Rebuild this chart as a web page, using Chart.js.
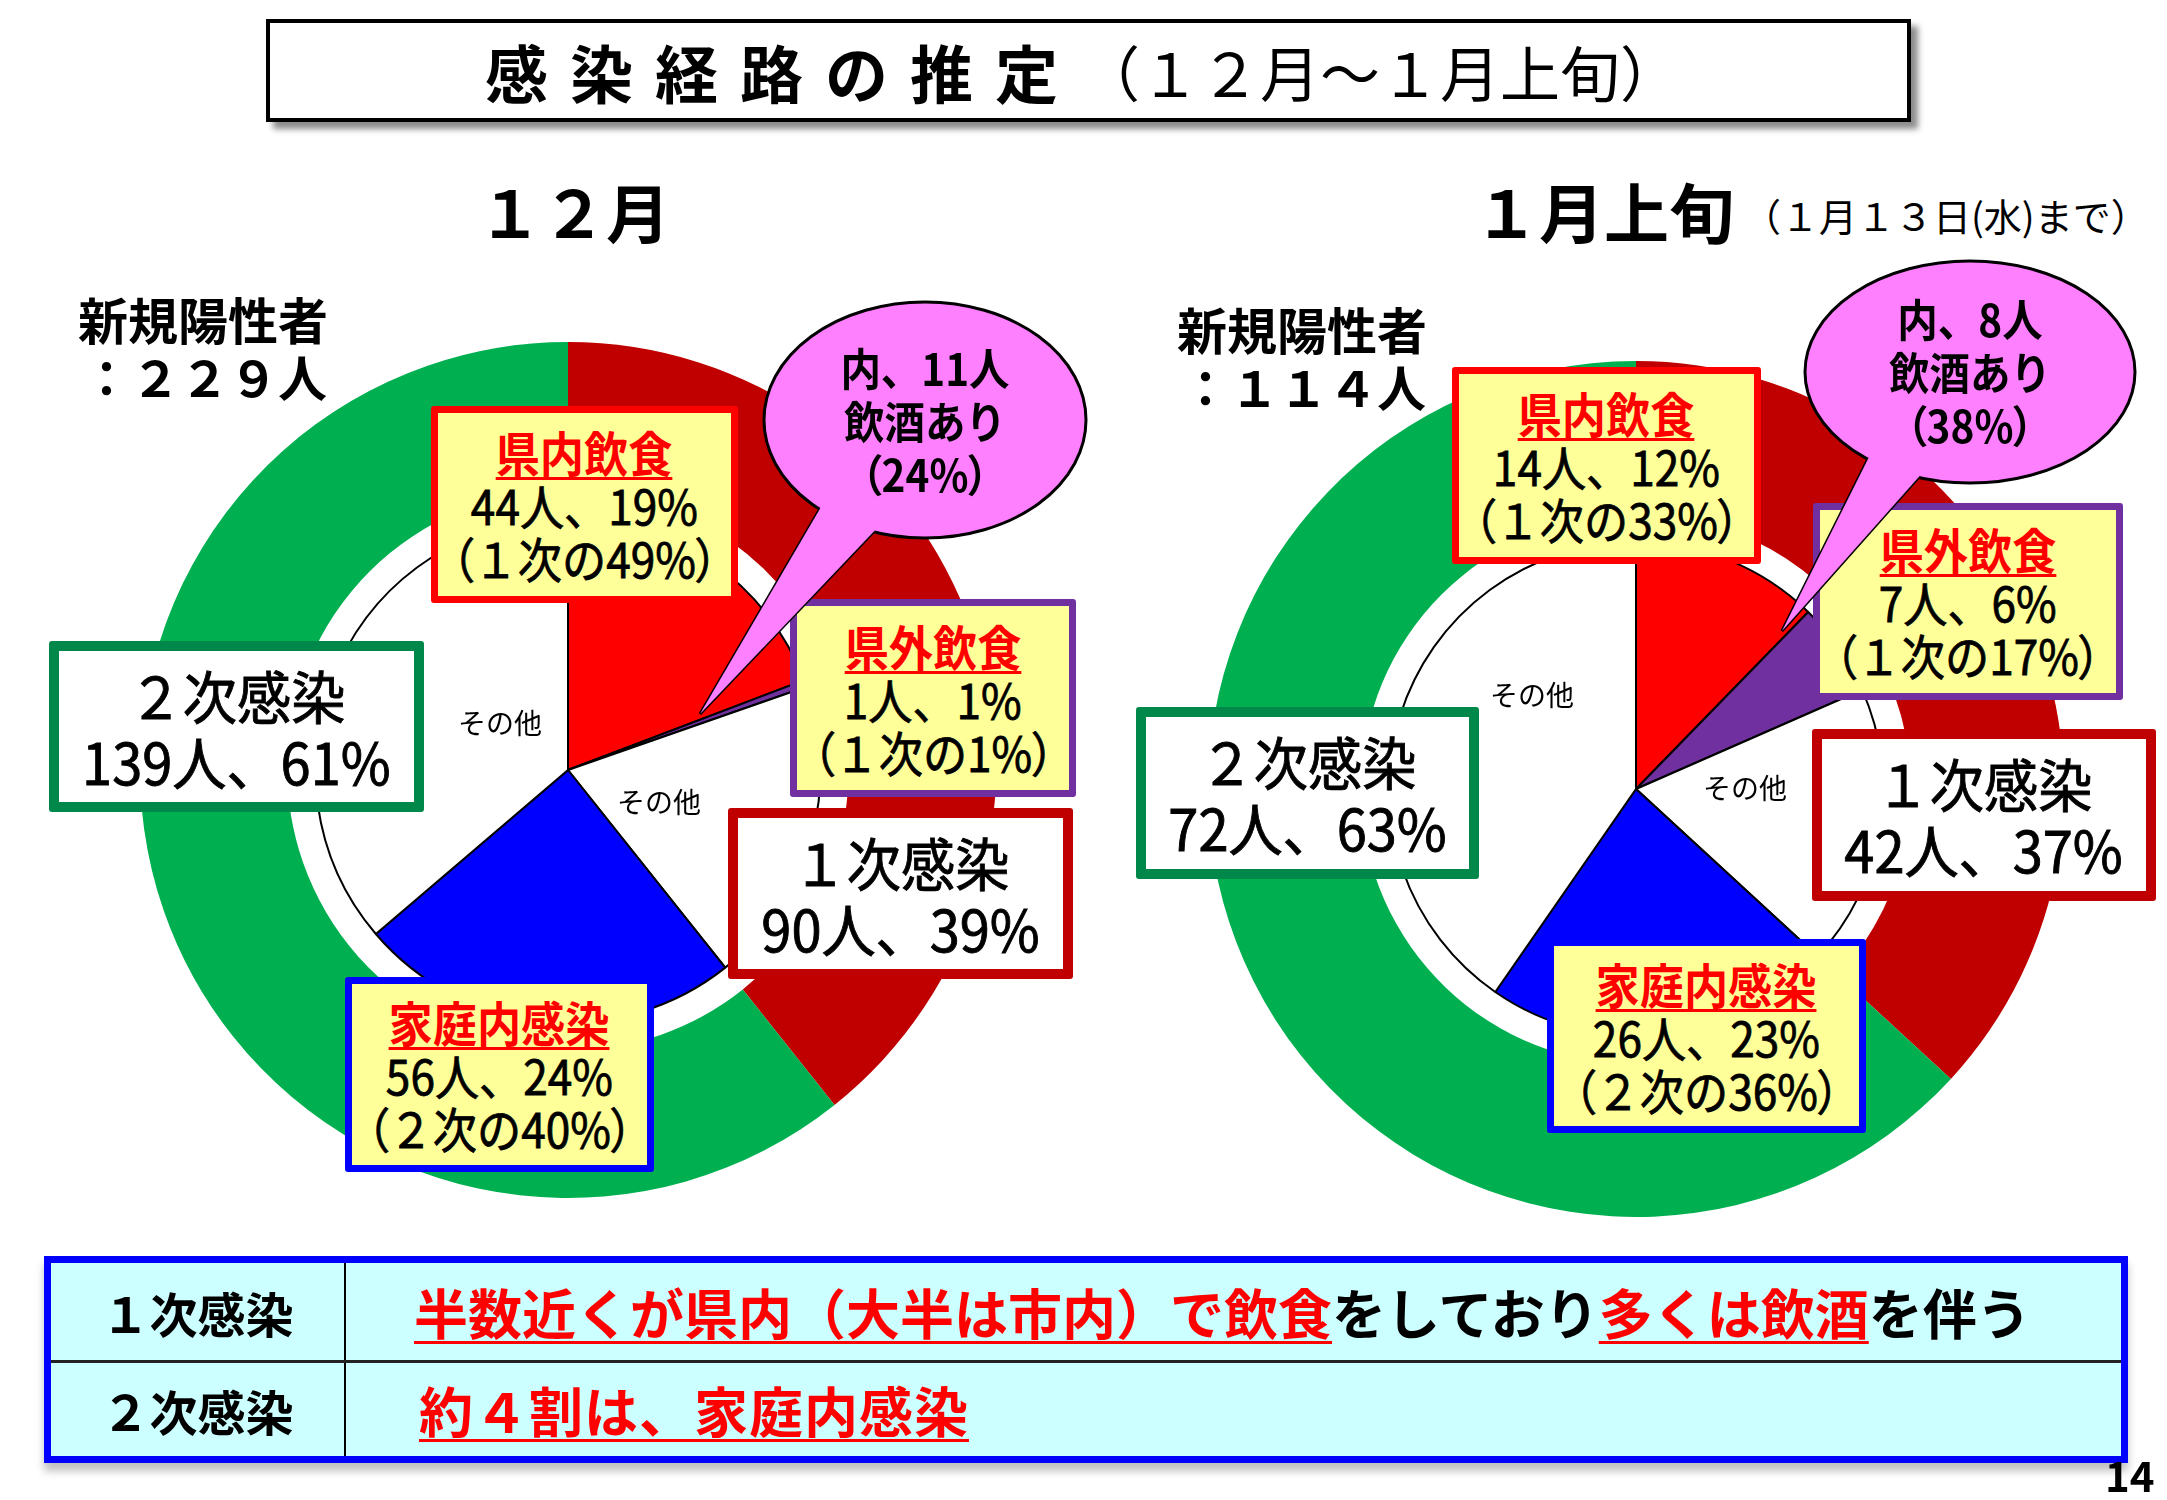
<!DOCTYPE html>
<html>
<head>
<meta charset="utf-8">
<script src="https://cdn.jsdelivr.net/npm/chart.js@4.4.1/dist/chart.umd.min.js"></script>
<style>
  body { margin: 0; background: #fff; }
  #page { position: relative; width: 2167px; height: 1500px; overflow: hidden;
          font-family: "Noto Sans CJK JP", "Noto Sans", sans-serif; color: #000; }
  .abs { position: absolute; }
  .box { position: absolute; box-sizing: border-box; display: flex; flex-direction: column;
         justify-content: center; align-items: center; background: #FFFF99; border-radius: 3px;
         line-height: 53px; font-size: 48px; font-weight: 400; white-space: nowrap; }
  .box > div { transform: scaleX(0.92); -webkit-text-stroke: 0.8px #000; }
  .box > div.hd { color: #FF0000; font-weight: 700; text-decoration: underline; -webkit-text-stroke: 0;
             text-decoration-thickness: 3px; text-underline-offset: 5px; }
  .p { font-feature-settings: "palt"; }
  .big { background: #fff; font-size: 57px; line-height: 66px; border-width: 10px; border-style: solid; }
  .big > div { transform: scaleX(0.95); -webkit-text-stroke: 0.9px #000; }
  .sono { position: absolute; font-size: 28px; font-weight: 400; white-space: nowrap; }
  .ttl { position: absolute; font-weight: 700; white-space: nowrap; }
  .bub { position: absolute; font-size: 44px; line-height: 53px; font-weight: 700;
         text-align: center; white-space: nowrap; }
  .bub > div { transform: scaleX(0.92); }
  canvas { position: absolute; }
  .u { color: #FF0000; text-decoration: underline; text-decoration-thickness: 3px; text-underline-offset: 6px; }
</style>
</head>
<body>
<div id="page">
  <!-- title -->
  <div class="abs" style="left:266px;top:19px;width:1645px;height:103px;box-sizing:border-box;border:4px solid #000;
       box-shadow:7px 7px 6px rgba(0,0,0,0.45);display:flex;align-items:center;justify-content:center;white-space:nowrap;padding-right:12px;">
    <span style="font-size:63px;font-weight:700;letter-spacing:22px;">感染経路の推定</span><span style="font-size:60px;font-weight:400;">（１２月～１月上旬）</span>
  </div>

  <div class="ttl" style="left:478px;top:170px;font-size:64px;line-height:80px;">１２月</div>
  <div class="ttl" style="left:1474px;top:170px;font-size:65px;line-height:80px;">１月上旬</div>
  <div class="abs" style="left:1743px;top:190px;font-size:38px;line-height:50px;white-space:nowrap;">（１月１３日(水)まで）</div>

  <div class="ttl" style="left:78px;top:288px;font-size:50px;line-height:60px;">新規陽性者</div>
  <div class="ttl" style="left:82px;top:346px;font-size:49px;line-height:60px;">：２２９人</div>
  <div class="ttl" style="left:1177px;top:298px;font-size:50px;line-height:60px;">新規陽性者</div>
  <div class="ttl" style="left:1181px;top:356px;font-size:49px;line-height:60px;">：１１４人</div>

  <canvas id="decChart" width="856" height="856" style="left:140px;top:342px;width:856px;height:856px;"></canvas>
  <canvas id="janChart" width="856" height="856" style="left:1208px;top:361px;width:856px;height:856px;"></canvas>

  <div class="sono" style="left:458px;top:702px;">その他</div>
  <div class="sono" style="left:617px;top:781px;">その他</div>
  <div class="sono" style="left:1490px;top:674px;">その他</div>
  <div class="sono" style="left:1703px;top:767px;">その他</div>

  <!-- December labels -->
  <div class="box" style="left:431px;top:406px;width:307px;height:197px;border:7px solid #FF0000;">
    <div class="hd">県内飲食</div><div>44人、19%</div><div><span class="p">（</span>１次の49%<span class="p">）</span></div>
  </div>
  <div class="box" style="left:790px;top:599px;width:286px;height:198px;border:7px solid #7030A0;">
    <div class="hd">県外飲食</div><div>1人、1%</div><div><span class="p">（</span>１次の1%<span class="p">）</span></div>
  </div>
  <div class="box big" style="left:728px;top:808px;width:345px;height:171px;border-color:#C00000;">
    <div>１次感染</div><div>90人、39%</div>
  </div>
  <div class="box big" style="left:49px;top:641px;width:375px;height:171px;border-color:#00884B;">
    <div>２次感染</div><div>139人、61%</div>
  </div>
  <div class="box" style="left:345px;top:977px;width:309px;height:195px;border:7px solid #0000FF;">
    <div class="hd">家庭内感染</div><div>56人、24%</div><div><span class="p">（</span>２次の40%<span class="p">）</span></div>
  </div>

  <!-- January labels -->
  <div class="box" style="left:1452px;top:367px;width:309px;height:197px;border:7px solid #FF0000;">
    <div class="hd">県内飲食</div><div>14人、12%</div><div><span class="p">（</span>１次の33%<span class="p">）</span></div>
  </div>
  <div class="box" style="left:1813px;top:503px;width:310px;height:197px;border:7px solid #7030A0;">
    <div class="hd">県外飲食</div><div>7人、6%</div><div><span class="p">（</span>１次の17%<span class="p">）</span></div>
  </div>
  <div class="box big" style="left:1812px;top:729px;width:344px;height:172px;border-color:#C00000;">
    <div>１次感染</div><div>42人、37%</div>
  </div>
  <div class="box big" style="left:1136px;top:707px;width:343px;height:172px;border-color:#00884B;">
    <div>２次感染</div><div>72人、63%</div>
  </div>
  <div class="box" style="left:1547px;top:939px;width:319px;height:194px;border:7px solid #0000FF;">
    <div class="hd">家庭内感染</div><div>26人、23%</div><div><span class="p">（</span>２次の36%<span class="p">）</span></div>
  </div>

  <!-- speech bubbles -->
  <svg class="abs" style="left:0;top:0;" width="2167" height="1500">
    <g fill="#FF80FF" stroke="#000" stroke-width="3">
      <polygon points="828,495 700,714 880,525"/>
      <ellipse cx="925" cy="420" rx="161" ry="118"/>
      <polygon points="828,495 700,714 880,525" stroke="none"/>
      <polygon points="1870,455 1782,631 1925,470"/>
      <ellipse cx="1970" cy="372" rx="165" ry="111"/>
      <polygon points="1870,455 1782,631 1925,470" stroke="none"/>
    </g>
  </svg>
  <div class="bub" style="left:764px;top:341px;width:322px;"><div>内、11人</div><div>飲酒あり</div><div><span class="p">（</span>24%<span class="p">）</span></div></div>
  <div class="bub" style="left:1805px;top:292px;width:330px;"><div>内、8人</div><div>飲酒あり</div><div><span class="p">（</span>38%<span class="p">）</span></div></div>

  <!-- summary table -->
  <div class="abs" style="left:44px;top:1256px;width:2084px;height:207px;box-sizing:border-box;border:7px solid #0000FF;
       background:#CCFFFF;box-shadow:0 8px 8px rgba(0,0,0,0.25);">
    <div class="abs" style="left:293px;top:0;width:2px;height:193px;background:#000;"></div>
    <div class="abs" style="left:0;top:97px;width:2070px;height:3px;background:#222;"></div>
    <div class="abs" style="left:0;top:0;width:293px;height:97px;display:flex;align-items:center;justify-content:center;font-size:48px;font-weight:700;">１次感染</div>
    <div class="abs" style="left:0;top:100px;width:293px;height:93px;display:flex;align-items:center;justify-content:center;font-size:48px;font-weight:700;">２次感染</div>
    <div class="abs" style="left:363px;top:0;height:97px;display:flex;align-items:center;font-size:54px;letter-spacing:0;font-weight:700;white-space:nowrap;">
      <span class="u">半数近くが県内（大半は市内）で飲食</span><span>をしており</span><span class="u">多くは飲酒</span><span>を伴う</span>
    </div>
    <div class="abs" style="left:368px;top:100px;height:93px;display:flex;align-items:center;font-size:54px;letter-spacing:1px;font-weight:700;white-space:nowrap;">
      <span class="u">約４割は、家庭内感染</span>
    </div>
  </div>
  <div class="ttl" style="left:2105px;top:1448px;font-size:42px;line-height:52px;">14</div>
</div>

<script>
// outer ring: 1次感染, 2次感染
const ringLabels = ['1次感染', '2次感染'];
const decRing = [90, 139];
const janRing = [42, 72];
// inner pie: 県内飲食, 県外飲食, その他(1次), 家庭内感染, その他(2次)
const pieLabels = ['県内飲食', '県外飲食', 'その他', '家庭内感染', 'その他'];
const decPie = [44, 1, 45, 56, 83];
const janPie = [14, 7, 21, 26, 46];

const ringColors = ['#C00000', '#00B050'];
const pieColors = ['#FF0000', '#7030A0', '#FFFFFF', '#0000FF', '#FFFFFF'];

function makeChart(id, ring, pie, weights) {
    let ctx = document.getElementById(id);
    return new Chart(ctx, {
        type: 'doughnut',
        data: {
            labels: pieLabels,
            datasets: [{
                data: ring,
                backgroundColor: ringColors,
                borderWidth: 0,
                weight: weights[0]
            }, {
                // white gap between ring and pie
                data: [1],
                backgroundColor: ['rgba(0,0,0,0)'],
                borderWidth: 0,
                weight: weights[1]
            }, {
                data: pie,
                backgroundColor: pieColors,
                borderColor: '#000000',
                borderWidth: 2,
                weight: weights[2]
            }]
        },
        options: {
            responsive: false,
            animation: false,
            cutout: 0,
            events: [],
            devicePixelRatio: 1,
            layout: { padding: 0 },
            plugins: {
                legend: { display: false },
                tooltip: { enabled: false }
            }
        }
    });
}

makeChart('decChart', decRing, decPie, [147, 28, 252]);
makeChart('janChart', janRing, janPie, [153, 28, 247]);
</script>
</body>
</html>
